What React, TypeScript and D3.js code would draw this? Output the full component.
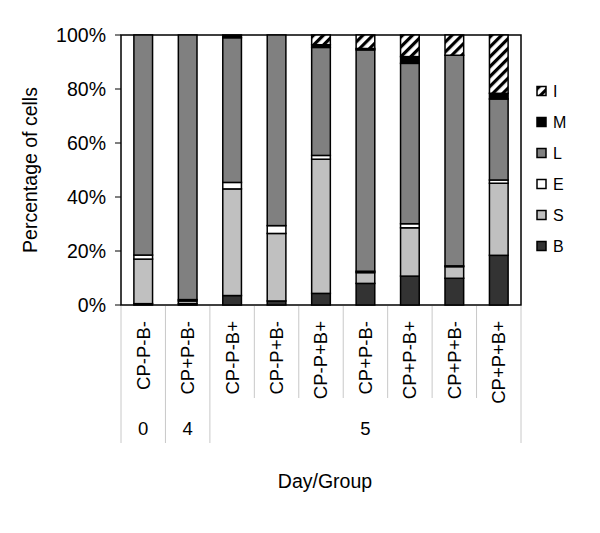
import React from 'react';
import * as d3 from 'd3';

const categories = ['CP-P-B-', 'CP+P-B-', 'CP-P-B+', 'CP-P+B-', 'CP-P+B+', 'CP+P-B-', 'CP+P-B+', 'CP+P+B-', 'CP+P+B+'];
const days = ['0', '4', '5', '5', '5', '5', '5', '5', '5'];
const seriesKeys = ['B', 'S', 'E', 'L', 'M', 'I'];

const B = [0.5, 0.5, 3.5, 1.5, 4.3, 8.0, 10.7, 9.9, 18.4];
const S = [16.5, 1.0, 39.5, 25.0, 49.7, 4.0, 17.9, 4.3, 26.7];
const E = [1.5, 0.5, 2.4, 2.9, 1.4, 0.5, 1.5, 0.3, 1.2];
const L = [81.5, 98.0, 53.6, 70.6, 40.0, 82.0, 59.4, 78.0, 30.0];
const M = [0, 0, 1.0, 0, 1.0, 0.5, 2.5, 0, 2.1];
const I = [0, 0, 0, 0, 3.6, 5.0, 8.0, 7.5, 21.6];

const yTicks = [0, 20, 40, 60, 80, 100];

const fills: Record<string, string> = {
  B: '#333333',
  S: '#c0c0c0',
  E: '#ffffff',
  L: '#808080',
  M: '#000000',
  I: 'url(#hatch)',
};

const font = '"Liberation Sans", Arial, sans-serif';

export default function App() {
  const margin = { top: 35, right: 79, bottom: 228, left: 121 };
  const width = 600, height = 533;

  const x = d3.scaleBand<string>()
    .domain(categories.map((_, i) => String(i)))
    .range([margin.left, width - margin.right])
    .paddingInner(0.58)
    .paddingOuter(0.29);

  const y = d3.scaleLinear()
    .domain([0, 100])
    .range([height - margin.bottom, margin.top]);

  const rows = categories.map((c, i) => ({
    idx: String(i), B: B[i], S: S[i], E: E[i], L: L[i], M: M[i], I: I[i],
  }));
  const stacked = d3.stack<any>().keys(seriesKeys)(rows);

  const step = x.step();
  const x0 = margin.left;
  const bottom = y(0);

  // day groups: start and end index
  const groups: { label: string, start: number, end: number }[] = [];
  days.forEach((d, i) => {
    const last = groups[groups.length - 1];
    if (last && last.label === d) last.end = i;
    else groups.push({ label: d, start: i, end: i });
  });
  const groupEdges = new Set<number>();
  groups.forEach(g => { groupEdges.add(g.start); groupEdges.add(g.end + 1); });

  const legendKeys = [...seriesKeys].reverse();
  const labelTop = 321;

  return (
    <svg width={width} height={height} style={{ position: 'absolute', left: 0, top: 0 }} fontFamily={font}>
      <defs>
        <pattern id="hatch" patternUnits="userSpaceOnUse" width="7" height="7" patternTransform="rotate(45)">
          <rect width="7" height="7" fill="#fff" />
          <rect width="3.2" height="7" fill="#000" />
        </pattern>
      </defs>

      {/* plot frame */}
      <rect x={margin.left} y={margin.top} width={width - margin.left - margin.right}
        height={bottom - margin.top} fill="none" stroke="#000" strokeWidth={1.5} />

      {/* y axis ticks */}
      {yTicks.map(t => (
        <g key={t}>
          <line x1={margin.left - 6} x2={margin.left} y1={y(t)} y2={y(t)} stroke="#000" strokeWidth={1} />
          <text x={106} y={y(t)} dy="0.35em" textAnchor="end" fontSize={19.5}>{t}%</text>
        </g>
      ))}

      {/* bars */}
      {stacked.map(layer => (
        <g key={layer.key} fill={fills[layer.key]} stroke="#000" strokeWidth={1.5}>
          {layer.map((d, i) => (d[1] - d[0] > 0 ?
            <rect key={i} x={x(String(i))} width={x.bandwidth()} y={y(d[1])} height={y(d[0]) - y(d[1])} />
            : null))}
        </g>
      ))}

      {/* category separators */}
      {d3.range(categories.length + 1).map(i => (
        <line key={i} x1={x0 + i * step} x2={x0 + i * step} y1={bottom + 1}
          y2={groupEdges.has(i) ? 443 : 398} stroke="#c8c8c8" strokeWidth={1} />
      ))}

      {/* category labels */}
      {categories.map((c, i) => {
        const cx = (x(String(i)) as number) + x.bandwidth() / 2;
        return (
          <text key={i} x={cx} y={labelTop} dy="0.35em" textAnchor="end" fontSize={18.5}
            transform={`rotate(-90, ${cx}, ${labelTop})`}>{c}</text>
        );
      })}

      {/* day labels */}
      {groups.map(g => (
        <text key={g.start} x={x0 + (g.start + g.end + 1) / 2 * step} y={435}
          textAnchor="middle" fontSize={18.5}>{g.label}</text>
      ))}

      <text x={(margin.left + width - margin.right) / 2 + 4} y={488} textAnchor="middle" fontSize={19.5}>Day/Group</text>

      <text x={30} y={(margin.top + bottom) / 2} dy="0.35em" textAnchor="middle" fontSize={19.5}
        transform={`rotate(-90, 30, ${(margin.top + bottom) / 2})`}>Percentage of cells</text>

      {/* legend */}
      {legendKeys.map((k, i) => {
        const ly = 91 + i * 31;
        return (
          <g key={k}>
            <rect x={537} y={ly - 4.5} width={9} height={9} fill={fills[k]} stroke="#000" strokeWidth={1.5} />
            <text x={553} y={ly} dy="0.35em" fontSize={16}>{k}</text>
          </g>
        );
      })}
    </svg>
  );
}
